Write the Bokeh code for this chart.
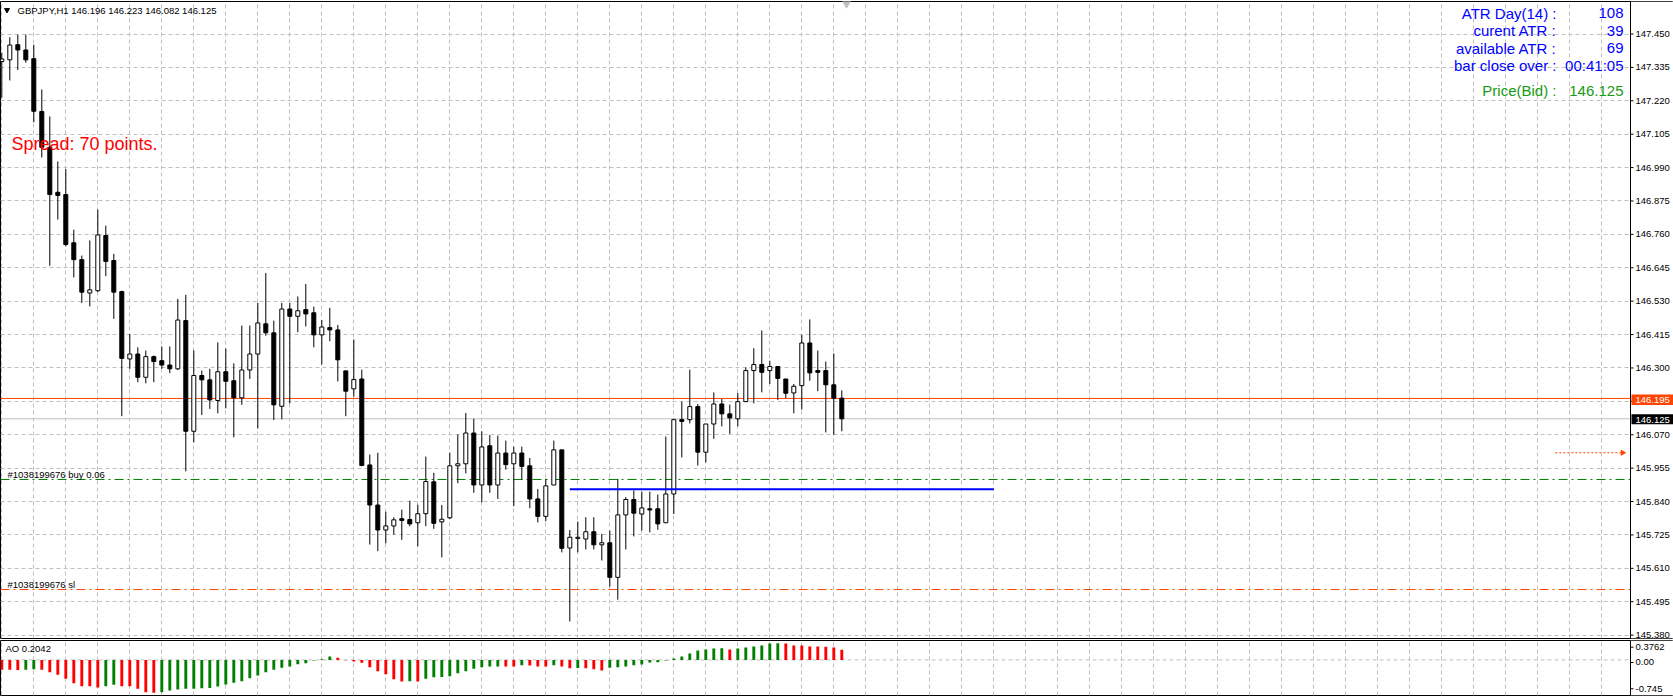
from bokeh.plotting import figure
from bokeh.models import Range1d, FixedTicker, Span, Label
from bokeh.core.properties import value
from bokeh.layouts import column
from bokeh.embed import file_html
from bokeh.resources import INLINE

# ---------------- data ----------------
bars = list(range(106))
opens = [147.355,147.361,147.413,147.395,147.365,147.183,147.060,146.905,146.897,146.731,
         146.673,146.558,146.566,146.756,146.670,146.563,146.331,146.348,146.268,146.339,
         146.325,146.310,146.297,146.463,146.082,146.274,146.259,146.188,146.287,146.256,
         146.197,146.293,146.348,146.452,146.421,146.168,146.503,146.478,146.501,146.490,
         146.414,146.439,146.431,146.290,146.228,146.262,145.966,145.828,145.742,145.756,
         145.781,145.778,145.767,145.798,145.908,145.770,145.784,145.963,145.970,146.076,
         145.897,146.032,145.897,146.007,145.970,146.007,145.963,145.849,145.789,145.897,
         146.018,145.680,145.713,145.711,145.736,145.691,145.698,145.579,145.794,145.847,
         145.797,145.815,145.815,145.767,145.866,146.122,146.122,146.167,146.010,146.107,
         146.176,146.142,146.125,146.184,146.291,146.312,146.291,146.305,146.262,146.214,
         146.239,146.386,146.291,146.291,146.242,146.196]
highs = [147.386,147.439,147.448,147.448,147.413,147.259,147.166,147.011,146.985,146.776,
         146.687,146.739,146.845,146.790,146.693,146.566,146.417,146.371,146.360,146.343,
         146.374,146.374,146.538,146.552,146.360,146.291,146.297,146.388,146.367,146.316,
         146.446,146.446,146.524,146.627,146.463,146.524,146.524,146.546,146.589,146.511,
         146.465,146.507,146.448,146.290,146.398,146.294,146.002,146.008,145.805,145.786,
         145.812,145.843,145.829,145.995,145.939,145.828,146.008,146.071,146.145,146.125,
         146.082,146.069,146.067,146.050,146.029,146.029,145.990,145.883,145.918,146.050,
         146.018,145.742,145.771,145.786,145.786,145.729,145.740,145.918,145.855,145.878,
         145.874,145.874,145.864,146.064,146.122,146.184,146.294,146.176,146.107,146.216,
         146.193,146.174,146.214,146.302,146.368,146.429,146.325,146.305,146.262,146.245,
         146.414,146.467,146.360,146.322,146.350,146.223]
lows = [147.231,147.290,147.326,147.351,147.146,147.025,146.652,146.811,146.719,146.612,
        146.524,146.512,146.561,146.616,146.469,146.134,146.297,146.251,146.247,146.251,
        146.297,146.282,146.293,145.944,146.044,146.138,146.159,146.144,146.161,146.061,
        146.173,146.262,146.092,146.411,146.121,146.123,146.178,146.423,146.443,146.371,
        146.312,146.392,146.254,146.134,146.201,145.962,145.692,145.669,145.696,145.726,
        145.708,145.755,145.686,145.755,145.746,145.648,145.780,145.903,145.937,145.870,
        145.837,145.870,145.849,145.950,145.824,145.915,145.817,145.768,145.772,145.897,
        145.665,145.427,145.665,145.675,145.675,145.637,145.547,145.502,145.675,145.720,
        145.740,145.734,145.743,145.767,145.797,145.992,146.109,145.964,145.975,146.056,
        146.099,146.073,146.099,146.184,146.178,146.216,146.245,146.190,146.196,146.144,
        146.157,146.256,146.220,146.078,146.070,146.082]
closes = [147.364,147.412,147.395,147.361,147.184,147.060,146.897,146.894,146.725,146.673,
          146.561,146.569,146.758,146.667,146.561,146.333,146.348,146.268,146.339,146.322,
          146.310,146.297,146.465,146.082,146.274,146.259,146.190,146.287,146.254,146.197,
          146.293,146.348,146.455,146.421,146.173,146.503,146.478,146.497,146.486,146.414,
          146.441,146.431,146.328,146.220,146.260,145.964,145.828,145.742,145.756,145.777,
          145.775,145.763,145.798,145.909,145.765,145.779,145.963,145.970,146.076,145.897,
          146.028,145.897,146.007,145.967,146.007,145.961,145.849,145.789,145.894,146.018,
          145.679,145.717,145.717,145.736,145.691,145.698,145.579,145.794,145.847,145.800,
          145.818,145.811,145.763,145.866,146.122,146.116,146.167,146.010,146.107,146.176,
          146.142,146.128,146.184,146.291,146.312,146.285,146.305,146.264,146.213,146.237,
          146.386,146.283,146.285,146.242,146.196,146.125]

ao_values = [-0.222,-0.225,-0.228,-0.226,-0.211,-0.226,-0.279,-0.339,-0.430,-0.529,
             -0.597,-0.600,-0.627,-0.597,-0.567,-0.597,-0.600,-0.658,-0.733,-0.745,
             -0.733,-0.695,-0.673,-0.658,-0.655,-0.642,-0.640,-0.605,-0.559,-0.521,
             -0.483,-0.415,-0.355,-0.279,-0.226,-0.180,-0.150,-0.097,-0.074,-0.014,
             0.017,0.077,0.047,-0.006,-0.036,-0.067,-0.165,-0.256,-0.324,-0.438,
             -0.491,-0.483,-0.491,-0.430,-0.392,-0.390,-0.370,-0.302,-0.256,-0.203,
             -0.165,-0.150,-0.148,-0.150,-0.152,-0.120,-0.127,-0.148,-0.150,-0.120,
             -0.150,-0.188,-0.186,-0.190,-0.211,-0.241,-0.180,-0.165,-0.150,-0.120,
             -0.105,-0.059,-0.052,-0.014,0.032,0.077,0.145,0.214,0.236,0.259,
             0.262,0.236,0.259,0.282,0.305,0.327,0.373,0.376,0.370,0.327,
             0.325,0.305,0.303,0.300,0.282,0.230]
ao_rising = [0,0,0,1,1,0,0,0,0,0, 0,0,0,1,1,0,0,0,0,0,
             1,1,1,1,1,1,1,1,1,1, 1,1,1,1,1,1,1,1,1,1,
             1,1,0,0,0,0,0,0,0,0, 0,1,0,1,1,1,1,1,1,1,
             1,1,1,0,0,1,0,0,0,1, 0,0,1,0,0,0,1,1,1,1,
             1,1,1,1,1,1,1,1,1,1, 1,0,1,1,1,1,1,1,0,0,
             0,0,0,0,0,0]

price_ticks = [147.450,147.335,147.220,147.105,146.990,146.875,146.760,146.645,146.530,
               146.415,146.300,146.185,146.070,145.955,145.840,145.725,145.610,145.495,145.380]
price_tick_labels = ["%.3f" % t for t in price_ticks]
ask_price = 146.195
bid_price = 146.125
buy_price = 145.916
sl_price = 145.537
level_price = 145.882
level_bars = [71, 124]
pending_price = 146.008
pending_bars = [194.2, 202.6]
ao_tick_pos = [0.289, -0.059, -0.657]
ao_tick_text = ["0.3762", "0.00", "-0.745"]

header = "GBPJPY,H1  146.196 146.223 146.082 146.125"
info_labels = ["ATR Day(14) :", "curent ATR :", "available ATR :", "bar close over :"]
info_values = ["108", "39", "69", "00:41:05"]

# ------------- helpers (pixel -> data for layout placement) -------------
def px2x(px):
    return (px - 1.3) / 8.0

def py2y(py):
    return 147.450 - (py - 33.5) / 290.4

def py2ao(py):
    return (659.4 - py) / 44.0

FONT = "Liberation Sans"
GRID = "#C0C0C0"
GREEN = "#008000"
ORANGE = "#FF4500"
W = 1673
AXIS_X = 1630

x_range = Range1d(px2x(0), px2x(W))
grid_bars = list(range(0, 204, 4))

# ------------- main price panel -------------
p = figure(width=W, height=639, output_backend="svg", toolbar_location=None,
           x_range=x_range, y_range=Range1d(py2y(638), py2y(1)),
           x_axis_location=None, y_axis_location=None,
           min_border_left=0, min_border_top=1, min_border_bottom=1, min_border_right=0)
p.background_fill_color = "white"
p.border_fill_color = "white"
p.outline_line_color = "black"

p.xgrid.ticker = FixedTicker(ticks=grid_bars)
p.ygrid.ticker = FixedTicker(ticks=price_ticks)
for g in (p.xgrid, p.ygrid):
    g.grid_line_color = GRID
    g.grid_line_dash = "4 3"
    g.grid_line_width = 1

x_left = px2x(0)
x_axis = px2x(AXIS_X)

# horizontal price lines (stop at the price scale)
p.line(x=[x_left, x_axis], y=[ask_price, ask_price], line_color=ORANGE, line_width=1)
p.line(x=[x_left, x_axis], y=[bid_price, bid_price], line_color=GRID, line_width=1)
p.line(x=[x_left, x_axis], y=[buy_price, buy_price], line_color=GREEN, line_width=1,
       line_dash="9 4 2 4")
p.line(x=[x_left, x_axis], y=[sl_price, sl_price], line_color=ORANGE, line_width=1,
       line_dash="9 4 2 4")

# candles
up = [c >= o for o, c in zip(opens, closes)]
tops = [max(o, c) for o, c in zip(opens, closes)]
bots = [min(o, c) for o, c in zip(opens, closes)]
p.segment(x0=bars, y0=lows, x1=bars, y1=highs, line_color="black", line_width=1)
p.vbar(x=bars, top=tops, bottom=bots, width=0.5,
       fill_color=["white" if u else "black" for u in up],
       line_color="black", line_width=1)

# blue level line
p.line(x=level_bars, y=[level_price, level_price], line_color="#0000FF", line_width=2)
# pending dotted arrow
p.line(x=pending_bars, y=[pending_price, pending_price], line_color=ORANGE,
       line_width=1, line_dash="2 2")
p.scatter(x=[pending_bars[1]], y=[pending_price], marker="triangle", angle=-1.5708,
          size=5, fill_color=ORANGE, line_color=ORANGE)

# chart shift marker & header triangle
p.scatter(x=[px2x(846)], y=[py2y(3)], marker="inverted_triangle", size=8,
          fill_color="#C0C0C0", line_color="#C0C0C0")
p.scatter(x=[px2x(6.5)], y=[py2y(9.5)], marker="inverted_triangle", size=5,
          fill_color="black", line_color="black")

# ---- price scale drawn by hand ----
def price_scale(fig, yfun, ticks, labels, tick_font="9.5px"):
    ylo, yhi = fig.y_range.start, fig.y_range.end
    fig.quad(left=px2x(AXIS_X), right=px2x(W + 2), bottom=ylo, top=yhi,
             fill_color="white", line_color=None)
    fig.line(x=[px2x(AXIS_X), px2x(AXIS_X)], y=[ylo, yhi], line_color="black", line_width=1)
    fig.segment(x0=[px2x(AXIS_X)] * len(ticks), x1=[px2x(AXIS_X + 3)] * len(ticks),
                y0=ticks, y1=ticks, line_color="black", line_width=1)
    fig.text(x=[px2x(AXIS_X + 5)] * len(ticks), y=ticks, text=labels,
             text_font=value(FONT), text_font_size=tick_font, text_color="black",
             text_baseline="middle", text_align="left")

price_scale(p, py2y, price_ticks, price_tick_labels)

def price_box(price, color, half_up, half_dn):
    p.quad(left=px2x(AXIS_X + 1), right=px2x(W + 2),
           top=price + half_up / 290.4, bottom=price - half_dn / 290.4,
           fill_color=color, line_color=None)
    p.text(x=[px2x(AXIS_X + 5)], y=[price - 1.2 / 290.4], text=["%.3f" % price],
           text_font=value(FONT), text_font_size="9.5px", text_color="white",
           text_baseline="middle", text_align="left")

price_box(ask_price, ORANGE, 4.0, 6.5)
price_box(bid_price, "black", 4.5, 5.5)

def lab(fig, px, py, text, color="black", size="9.5px", align="left", yfun=py2y):
    fig.add_layout(Label(x=px2x(px), y=yfun(py), text=text, text_color=color,
                         text_font=FONT, text_font_size=size, text_align=align,
                         text_baseline="middle"))

lab(p, 17, 10, header, size="9.5px")
lab(p, 11, 143, "Spread: 70 points.", color="#FF0000", size="18px")
lab(p, 7, 474, "#1038199676 buy 0.06", size="9.5px")
lab(p, 7, 584, "#1038199676 sl", size="9.5px")

info_y = [12.7, 30, 47.7, 65]
for t, v, yy in zip(info_labels, info_values, info_y):
    lab(p, 1556, yy, t, color="#0000FF", size="15px", align="right")
    lab(p, 1623, yy, v, color="#0000FF", size="15px", align="right")
lab(p, 1556, 90, "Price(Bid) :", color="#169A16", size="15px", align="right")
lab(p, 1623, 90, "146.125", color="#169A16", size="15px", align="right")

# ------------- AO panel -------------
q = figure(width=W, height=57, output_backend="svg", toolbar_location=None,
           x_range=x_range, y_range=Range1d(py2ao(695), py2ao(640)),
           x_axis_location=None, y_axis_location=None,
           min_border_left=0, min_border_top=1, min_border_bottom=1, min_border_right=0)
q.background_fill_color = "white"
q.border_fill_color = "white"
q.outline_line_color = "black"
q.xgrid.ticker = FixedTicker(ticks=grid_bars)
q.xgrid.grid_line_color = GRID
q.xgrid.grid_line_dash = "4 3"
q.ygrid.grid_line_color = None

q.line(x=[x_left, x_axis], y=[0, 0], line_color=GRID, line_width=1, line_dash="4 3")
q.vbar(x=bars, top=ao_values, bottom=0, width=0.36,
       fill_color=[GREEN if r else "#FF0000" for r in ao_rising],
       line_color=None)
price_scale(q, py2ao, ao_tick_pos, ao_tick_text)
lab(q, 5, 648, "AO 0.2042", size="9.5px", yfun=py2ao)

layout = column(p, q, spacing=0)
open("out.html", "w").write(file_html(layout, INLINE))
